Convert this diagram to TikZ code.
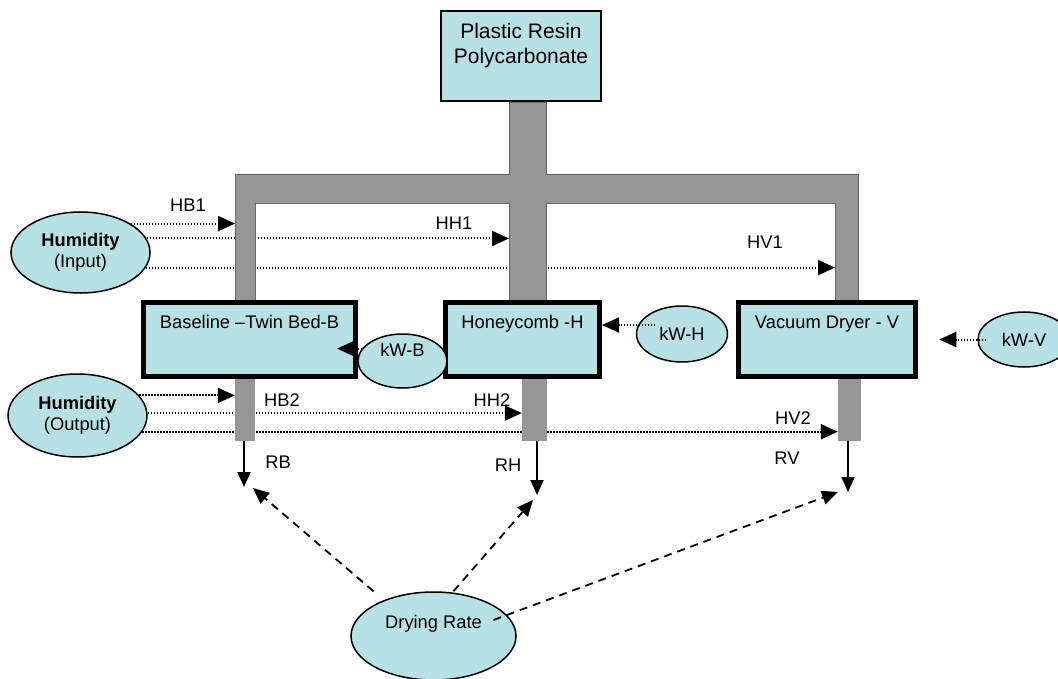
\documentclass[tikz,border=0pt]{standalone}
\usepackage{fontspec}
\setmainfont{Liberation Sans}
\usetikzlibrary{shapes.geometric,arrows.meta,calc}

\definecolor{resin}{RGB}{185,224,228}
\definecolor{duct}{RGB}{150,150,150}

\pgfdeclarelayer{background}
\pgfsetlayers{background,main}

\begin{document}
\begin{tikzpicture}[x=1pt,y=-1pt,
  font=\fontsize{18.3}{21}\selectfont,
  dryer/.style={draw, line width=5pt, fill=resin, inner sep=2pt, minimum height=74pt, text height=13pt, text depth=35pt},
  bubble/.style={ellipse, draw, line width=1.5pt, fill=resin, inner sep=0pt},
  pipe/.style={fill=duct, inner sep=0pt, minimum height=62pt, anchor=north},
  tag/.style={inner sep=0pt},
  hum/.style={line width=2pt, dash pattern=on 1.5pt off 1.5pt, -{Triangle[length=17pt,width=15pt]}},
  flow/.style={line width=2pt, -{Triangle[length=15pt,width=13pt]}},
  rate/.style={line width=1.8pt, dash pattern=on 8pt off 6pt, -{Triangle[length=16pt,width=14pt]}}]

\useasboundingbox (0,0) rectangle (1058,679);

% resin and the duct to the three dryers
\node[draw, line width=2pt, fill=resin, minimum width=160pt, minimum height=90pt, align=center,
      font=\fontsize{21}{25}\selectfont] (resin) at (521,56) {Plastic Resin\\Polycarbonate\\~};

\path[fill=duct, draw=black!60, line width=0.6pt]
   (235,300) -- (235,174) -- (509,174) -- (509,102) -- (546,102) -- (546,174)
   -- (858,174) -- (858,300) -- (835,300) -- (835,203) -- (546,203) -- (546,300)
   -- (509,300) -- (509,203) -- (255,203) -- (255,300) -- cycle;
\coordinate (inB) at (235,174);
\coordinate (inH) at (509,174);
\coordinate (inV) at (835,174);

% dryers
\node[dryer, minimum width=212pt] (twin)   at (249.5,339.5) {Baseline –Twin Bed-B};
\node[dryer, minimum width=154pt] (honey)  at (522.5,339.5) {Honeycomb -H};
\node[dryer, minimum width=177pt] (vacuum) at (827,339.5)   {Vacuum Dryer - V};

\node[pipe, minimum width=20pt] (outB) at (245,379)   {};
\node[pipe, minimum width=25pt] (outH) at (534.5,379) {};
\node[pipe, minimum width=23pt] (outV) at (849.5,379) {};

% inputs
\node[bubble, minimum width=139pt, minimum height=81pt, align=center] (humin)  at (80.5,252.5) {\textbf{Humidity}\\(Input)};
\node[bubble, minimum width=139pt, minimum height=83pt, align=center] (humout) at (77.5,415.5) {\textbf{Humidity}\\(Output)};
\node[bubble, minimum width=89pt, minimum height=54pt, text height=13pt, text depth=22pt] (kwB) at (402.5,361) {kW-B};
\node[bubble, minimum width=91pt, minimum height=56pt] (kwH) at (682,334)    {kW-H};
\node[bubble, minimum width=92pt, minimum height=55pt] (kwV) at (1024,339.5) {kW-V};
\node[bubble, minimum width=165pt, minimum height=88pt, text height=13pt, text depth=28pt] (rate) at (433.5,636) {Drying Rate};

\begin{pgfonlayer}{background}
  \draw[hum] (humin.30)  -- (humin.30 -| inB);
  \draw[hum] (humin.12)  -- (humin.12 -| inH);
  \draw[hum] (humin.-13) -- (humin.-13 -| inV);
  \draw[hum] (humout.18)  -- (humout.18 -| outB.west);
  \draw[hum] (humout.2)   -- (humout.2 -| outH.west);
  \draw[hum] (humout.-14) -- (humout.-14 -| outV.west);
\end{pgfonlayer}

\coordinate (kwHs) at ($(kwH.center)+(-27,-9)$);
\coordinate (kwVs) at ($(kwV.west)+(9,0)$);
\draw[hum] (kwB.163) -- ($(kwB.163 -| twin.east)+(-21,0)$);
\draw[hum] (kwHs) -- (kwHs -| honey.east);
\draw[hum] (kwVs) -- ++(-47,0);

% outputs
\coordinate (rB) at (244,487);
\coordinate (rH) at (537,495);
\coordinate (rV) at (848,492);
\draw[flow] (outB.south -| rB) -- (rB);
\draw[flow] (outH.south -| rH) -- (rH);
\draw[flow] (outV.south -| rV) -- (rV);

\draw[rate] ($(rate.north)+(-60,0)$)   -- ($(rB)+(9,1)$);
\draw[rate] ($(rate.north)+(20,0)$)    -- ($(rH)+(-4,5)$);
\draw[rate] ($(rate.center)+(60,-16)$) -- ($(rV)+(-10,0)$);

% labels
\node[tag] (lHB1) at (188,205) {HB1};
\node[tag] (lHH1) at (454,223) {HH1};
\node[tag] (lHV1) at (765,242) {HV1};
\node[tag] (lHB2) at (282,400) {HB2};
\node[tag] (lHH2) at (492,400) {HH2};
\node[tag] (lHV2) at (793,418) {HV2};
\node[tag] (lRB)  at (278,462) {RB};
\node[tag] (lRH)  at (508,465) {RH};
\node[tag] (lRV)  at (787,458) {RV};

\end{tikzpicture}
\end{document}
